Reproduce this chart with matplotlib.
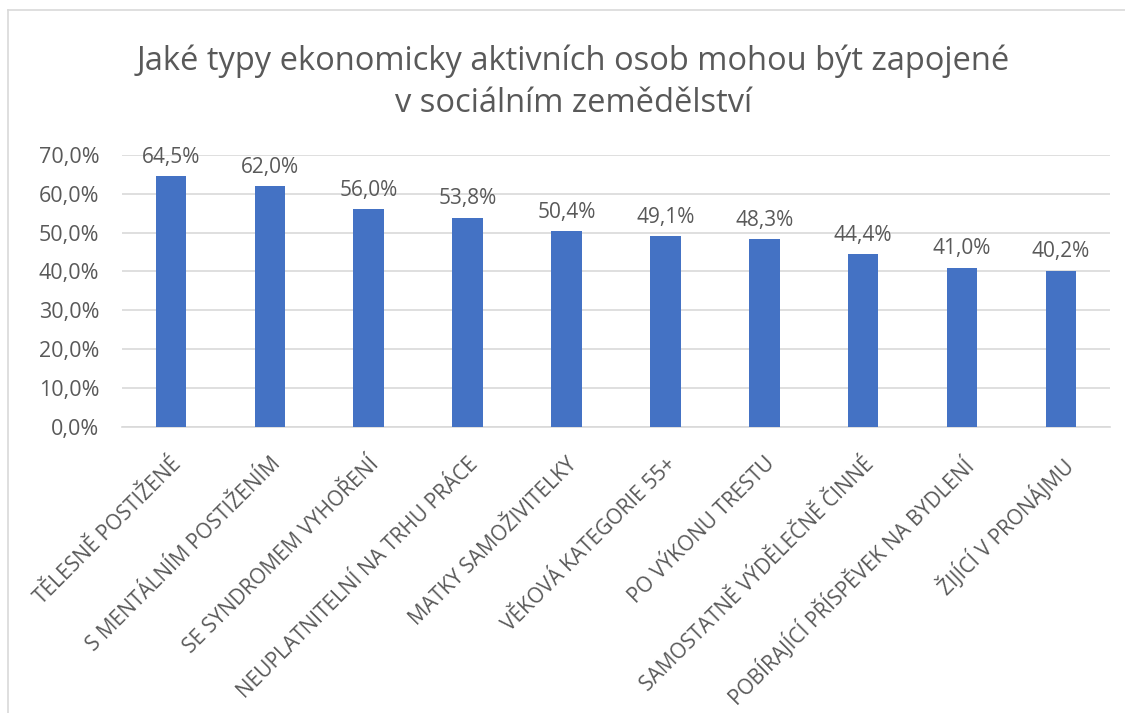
import matplotlib.pyplot as plt
from matplotlib.lines import Line2D

categories = ["TĚLESNĚ POSTIŽENÉ", "S MENTÁLNÍM POSTIŽENÍM", "SE SYNDROMEM VYHOŘENÍ",
              "NEUPLATNITELNÍ NA TRHU PRÁCE", "MATKY SAMOŽIVITELKY", "VĚKOVÁ KATEGORIE 55+",
              "PO VÝKONU TRESTU", "SAMOSTATNĚ VÝDĚLEČNĚ ČINNÉ",
              "POBÍRAJÍCÍ PŘÍSPĚVEK NA BYDLENÍ", "ŽIJÍCÍ V PRONÁJMU"]
values = [64.5, 62.0, 56.0, 53.8, 50.4, 49.1, 48.3, 44.4, 41.0, 40.2]
yticks = [0, 10, 20, 30, 40, 50, 60, 70]

plt.rcParams['font.family'] = ['Open Sans', 'DejaVu Sans']
text_col = '#595959'

fig = plt.figure(figsize=(11.25, 7.13), dpi=100)
ax = fig.add_axes([0.108, 0.401, 0.879, 0.382])

x = range(len(categories))
ax.bar(x, values, width=0.31, color='#4472c4', zorder=3)

for i, v in enumerate(values):
    ax.annotate(f"{v:.1f}%".replace('.', ','), (i, v), xytext=(0, 6),
                textcoords='offset points', ha='center', va='bottom',
                fontsize=15, color=text_col)

ax.set_xlim(-0.5, len(categories) - 0.5)
ax.set_ylim(0, 70)
ax.set_yticks(yticks)
ax.set_yticklabels([f"{t:.1f}%".replace('.', ',') for t in yticks])
ax.yaxis.grid(True, color='#d9d9d9', linewidth=1.2, zorder=0)
ax.set_xticks(list(x))
ax.set_xticklabels(categories, rotation=45, ha='right', rotation_mode='anchor')
ax.tick_params(axis='both', length=0, colors=text_col)
ax.tick_params(axis='x', labelsize=15, pad=19)
ax.tick_params(axis='y', labelsize=15.5, pad=16)
for s in ['top', 'right', 'left']:
    ax.spines[s].set_visible(False)
ax.spines['bottom'].set_color('#d9d9d9')
ax.spines['bottom'].set_linewidth(1.2)

fig.text(0.51, 0.885, "Jaké typy ekonomicky aktivních osob mohou být zapojené\nv sociálním zemědělství",
         ha='center', va='center', fontsize=23.5, color=text_col, linespacing=1.35)

# chart border (left and top)
fig.add_artist(Line2D([8 / 1125, 8 / 1125], [0, 1 - 10 / 713], transform=fig.transFigure,
                      color='#d9d9d9', linewidth=1.2))
fig.add_artist(Line2D([8 / 1125, 1], [1 - 10 / 713, 1 - 10 / 713], transform=fig.transFigure,
                      color='#d9d9d9', linewidth=1.2))

plt.savefig("out.png", dpi=100)
plt.close()
